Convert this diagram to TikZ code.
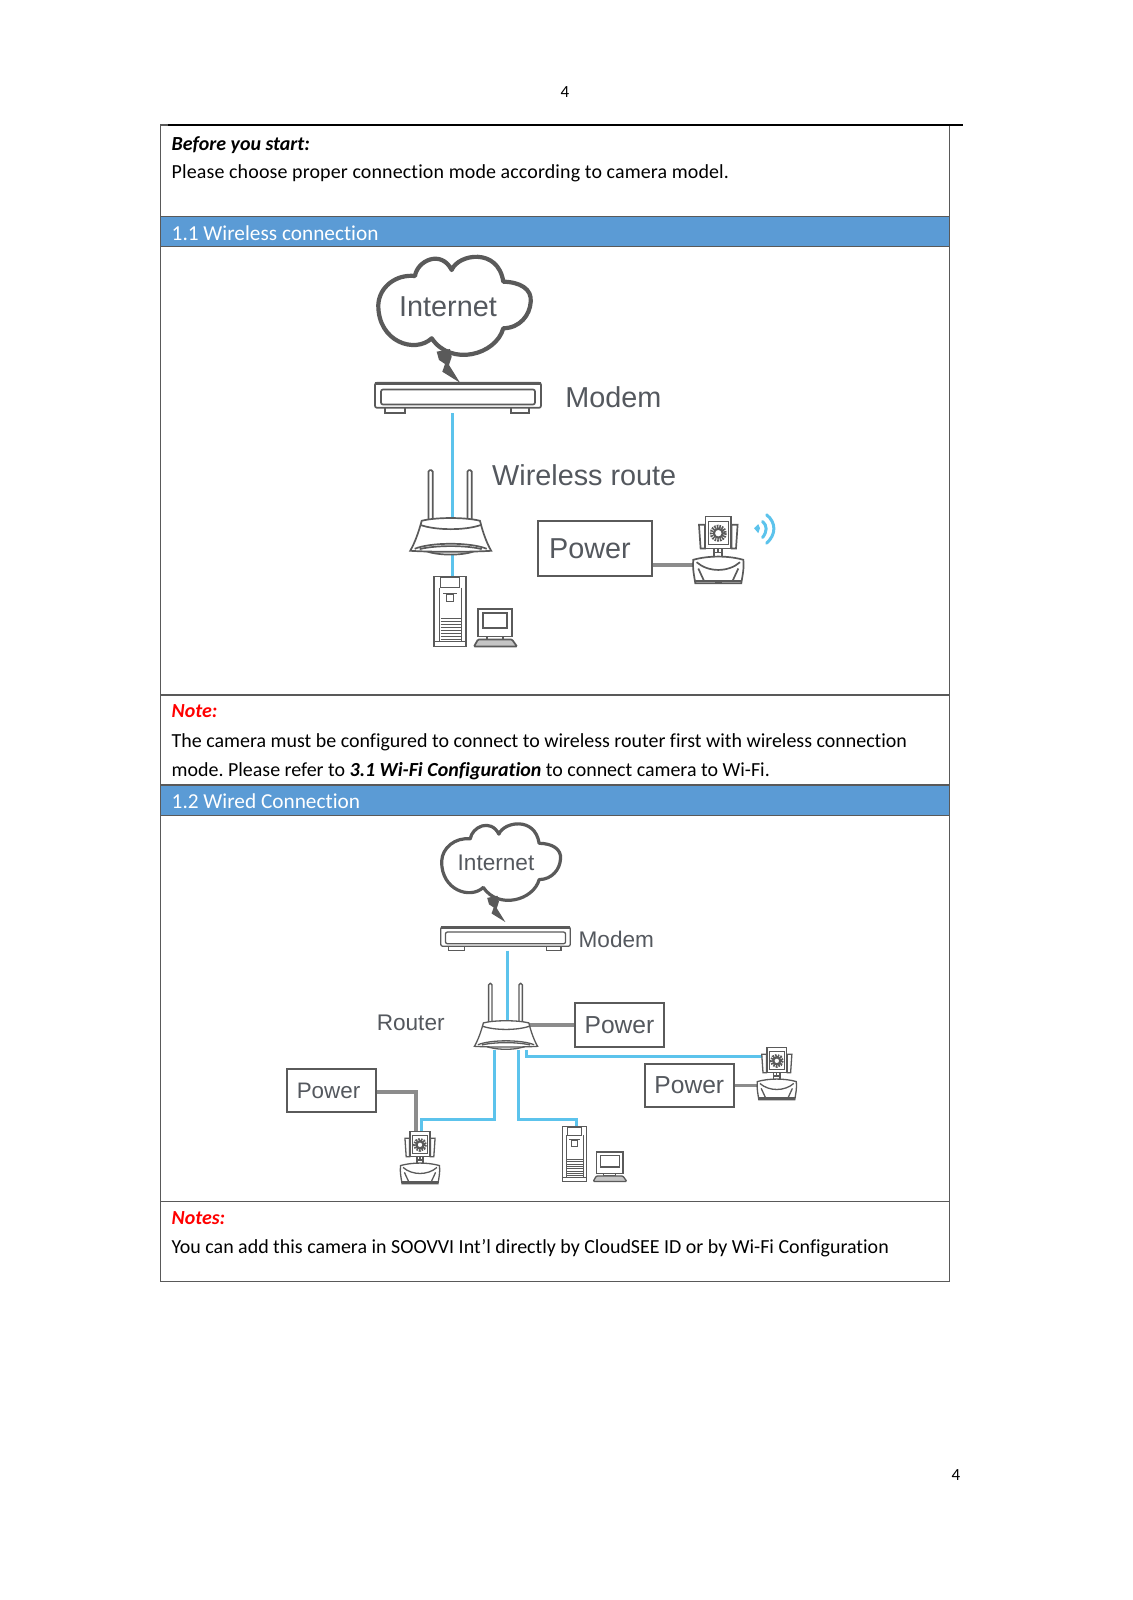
\documentclass[tikz,border=0pt]{standalone}
\usepackage{fontspec}
\usetikzlibrary{positioning}
\setmainfont{Carlito}[Ligatures=CommonOff]
\newfontfamily\arialfont{Liberation Sans}
\definecolor{bannerblue}{HTML}{5B9BD5}
\definecolor{lancolor}{HTML}{5CC3EC}
\definecolor{icocolor}{HTML}{5A5A5A}
\definecolor{lblcolor}{HTML}{54585E}

\tikzset{
    dev/.style 2 args = {inner sep = 0pt, minimum width = #1, minimum height = #2},
    icoline/.style = {draw = icocolor, line width = 1.7pt, fill = white},
    cloudline/.style = {icoline, line width = 4.2pt, line join = round},
    small icon/.style = {scale = 0.78, icoline/.append style = {line width = 1.3pt}, cloudline/.append style = {line width = 3.2pt}},
    lan/.style = {draw = lancolor, line width = 3pt},
    cable/.style = {draw = gray!90, line width = 3.4pt},
    cable small/.style = {cable, line width = 3.2pt},
    power/.style = {draw = icocolor, line width = 1.8pt, inner sep = 0pt, text = lblcolor},
    lbl/.style = {inner sep = 0pt, text = lblcolor, font = \arialfont\fontsize{28.8}{30}\selectfont},
    lblsmall/.style = {lbl, font = \arialfont\fontsize{22.6}{24}\selectfont},
    body/.style = {anchor = base west, inner sep = 0pt, font = \frenchspacing\fontsize{19.95}{24}\selectfont},
    bannertext/.style = {body, text = white, font = \fontsize{21.3}{24}\selectfont},
    tableline/.style = {draw = black!65, line width = 1.4pt},
    pics/cloudicon/.style = {code = {
        \draw[cloudline] (-69.7,-2)
            .. controls (-69,-20) and (-52,-33) .. (-33,-31)
            .. controls (-31,-46) and (-7,-58) .. (3.7,-37)
            .. controls (10,-53) and (50,-60) .. (55.3,-25.3)
            .. controls (72,-25) and (84,-18) .. (82.7,-5.3)
            .. controls (82,8) and (72,21) .. (55.3,21.3)
            .. controls (48,48) and (3,60) .. (-16.3,31.3)
            .. controls (-33,47) and (-70,35) .. (-69.7,-2) -- cycle;
        \fill[icocolor] (-11.3,44.7) -- (2,42) -- (3.7,49.7) -- (1,58) -- (12,75.7)
            -- (-5.7,64.7) -- (-3,57) -- (-9,53) -- cycle;
    }},
    pics/modemicon/.style = {code = {
        \draw[icoline] (-73,24) rectangle (-53,30);
        \draw[icoline] (53,24) rectangle (71,30);
        \draw[icoline, rounded corners = 2pt] (-83,0) rectangle (83,25);
        \draw[icoline, rounded corners = 2pt] (-77,6.7) rectangle (77,21.7);
        \draw[icoline, fill = none, line width = 2.6pt] (-83,0.5) -- (83,0.5);
    }},
    pics/routericon/.style = {code = {
        \draw[icoline, rounded corners = 1.5pt] (-22.3,5) rectangle (-18,-48);
        \draw[icoline, rounded corners = 1.5pt] (16.7,5) rectangle (21,-48);
        \draw[icoline] (-27,32) .. controls (-15,38) and (15,38) .. (26,32) -- cycle;
        \draw[icoline] (-29,2.7) .. controls (-15,-1) and (15,-1) .. (29.3,2.7)
            .. controls (32,14) and (36,25) .. (40.5,32.7)
            .. controls (20,34) and (-20,34) .. (-40.5,32.7)
            .. controls (-36,25) and (-32,14) .. (-29,2.7) -- cycle;
        \draw[icoline, fill = none] (-30.7,6.7) .. controls (-15,12.5) and (15,12.5) .. (30.7,6.7);
        \draw[icoline, fill = none] (-36,30.7) .. controls (-20,24) and (20,24) .. (36,30.7);
        \draw[icoline, fill = none] (-31,31) .. controls (-15,27) and (15,27) .. (31,31);
    }},
    pics/pcicon/.style = {code = {
        \draw[icoline] (-15.7,0) rectangle (15.7,70);
        \draw[icoline, line width = 0.9pt] (-9.5,1) rectangle (9.5,11);
        \draw[icoline, line width = 0.9pt, fill = none] (-10.5,11) -- (-10.5,65) (11,11) -- (11,65);
        \draw[icoline, line width = 0.9pt, fill = none] (-15.7,65) -- (15.7,65);
        \draw[icoline, line width = 1.2pt, fill = none] (-7,16.7) -- (7,16.7);
        \draw[icoline, line width = 0.9pt] (-3.5,18) rectangle (3.5,25);
        \foreach \ypos in {42,45,...,63}
            \draw[icoline, line width = 1pt, fill = none] (-9.5,\ypos) -- (11,\ypos);
        \draw[icoline] (28.3,32.3) rectangle (62.3,60);
        \draw[icoline] (33.3,36.7) rectangle (57.3,51.7);
        \draw[icoline] (37,60) rectangle (53,63);
        \draw[icoline, rounded corners = 1pt, fill = icocolor!35] (28,63) -- (62,63) -- (67,70) -- (24,70) -- cycle;
    }},
    pics/camicon/.style = {code = {
        \draw[icoline] (-19.3,8.3) -- (-17.7,32) -- (-13.3,32) -- (-13.3,8.3) -- cycle;
        \draw[icoline] (19.3,8.3) -- (17.7,32) -- (13.3,32) -- (13.3,8.3) -- cycle;
        \draw[icoline] (-4,30) rectangle (4,42);
        \draw[icoline, fill = none] (-4,36) -- (4,36) (0,30) -- (0,36);
        \draw[icoline] (-12.7,0) rectangle (12.7,32);
        \draw[icoline, line width = 0.9pt] (-10,5) rectangle (10,28);
        \draw[icocolor, line width = 3pt, dash pattern = on 1.6pt off 1pt] (0,16.7) circle (7);
        \draw[icoline, line width = 2.2pt] (0,16.7) circle (4.5);
        \draw[icoline] (-25,43.3) .. controls (-10,39) and (10,39) .. (25,43.3)
            .. controls (26,52) and (24,60) .. (23,66.7) -- (-23,66.7)
            .. controls (-24,60) and (-26,52) .. (-25,43.3) -- cycle;
        \draw[icoline, fill = none] (-21.7,45.7) .. controls (-10,56) and (10,56) .. (21.7,45.7);
        \draw[icoline, fill = none] (-20,52) -- (-14,65) (20,52) -- (14,65);
        \draw[icoline, fill = none] (-23,64.5) -- (23,64.5);
        \fill[icocolor] (-3.3,64) rectangle (3.3,67);
    }},
    pics/waveicon/.style = {code = {
        \fill[lancolor] (35.7,11.7) -- (40,7.7) -- (41.7,11.7) -- (40,16.7) -- cycle;
        \draw[lan, line cap = round] (44.3,5) .. controls (49,9) and (49,15) .. (44.3,21);
        \draw[lan, line cap = round] (48.3,-1.7) .. controls (58,6) and (58,18) .. (48.3,26.7);
    }},
}

\begin{document}
\begin{tikzpicture} [x = 1pt, y = -1pt]
    \useasboundingbox (0,0) rectangle (1132,1600);
    \fill[white] (0,0) rectangle (1132,1600);

    % page frame and table
    \node (pagetop) [body, anchor = base] at (565,98) {\fontsize{17}{20}\selectfont 4};
    \node (pagebottom) [body, anchor = base] at (956,1480) {\fontsize{17}{20}\selectfont 4};
    \fill[bannerblue] (160.7,216.5) rectangle (949.5,246.5);
    \fill[bannerblue] (160.7,785) rectangle (949.5,815.5);
    \draw[tableline] (160.7,125) rectangle (949.5,1281.7);
    \draw[tableline] (160.7,216.5) -- (949.5,216.5);
    \draw[tableline] (160.7,246.5) -- (949.5,246.5);
    \draw[tableline] (160.7,695) -- (949.5,695);
    \draw[tableline] (160.7,785) -- (949.5,785);
    \draw[tableline] (160.7,815.5) -- (949.5,815.5);
    \draw[tableline] (160.7,1201.7) -- (949.5,1201.7);
    \draw[black, line width = 2pt] (168,125) -- (963,125);

    % table text
    \node (before) [body] at (171.5,150) {\textbf{\textit{Before you start:}}};
    \node (please) [body] at (171.5,178) {\addfontfeature{LetterSpace=0.7}Please choose proper connection mode according to camera model.};
    \node (titleA) [bannertext] at (171.5,240.5) {1.1 Wireless connection};
    \node (noteA) [body, text = red] at (171.5,717) {\textbf{\textit{Note:}}};
    \node (noteAa) [body] at (171.5,747) {The camera must be configured to connect to wireless router first with wireless connection};
    \node (noteAb) [body] at (171.5,776) {mode. Please refer to \textbf{\textit{3.1 Wi-Fi Configuration}} to connect camera to Wi-Fi.};
    \node (titleB) [bannertext] at (171.5,808.5) {1.2 Wired Connection};
    \node (noteB) [body, text = red] at (171.5,1224) {\textbf{\textit{Notes:}}};
    \node (noteBa) [body] at (171.5,1253) {You can add this camera in SOOVVI Int’l directly by CloudSEE ID or by Wi-Fi Configuration};

    % wireless connection
    \node (modemA) [dev = {166pt}{30pt}] at (458,398) {};
    \node (routerA) [dev = {84pt}{37pt}] at (450.7,536.8) {};
    \node (pcA) [dev = {31.4pt}{70pt}] at (450,611.7) {};
    \node (camA) [dev = {50pt}{67pt}] at (718.3,550.2) {};
    \node (pwrA) [power, minimum width = 114pt, minimum height = 55pt, font = \arialfont\fontsize{28.8}{30}\selectfont] at (595,548.5) {Power\hspace*{10pt}};

    \path[lan] ([xshift = -6pt]modemA.south) edge ([xshift = 2pt]pcA.north);
    \draw[cable] ([yshift = -16.5pt]pwrA.east) -- ([yshift = -16.5pt]pwrA.east -| camA.center);

    \pic at (448,307) {cloudicon};
    \node (cloudA) [lbl] at (448,307) {Internet};
    \pic at (modemA.north) {modemicon};
    \pic at (routerA.north) {routericon};
    \pic at (pcA.north) {pcicon};
    \pic at (camA.north) {camicon};
    \pic at (camA.north) {waveicon};
    \node (modemlblA) [lbl, right = 24pt of modemA, yshift = 1pt] {Modem};
    \node (wifilbl) [lbl, anchor = base west] at (492,485) {Wireless route};

    % wired connection
    \node (modemB) [dev = {129.5pt}{23.5pt}] at (505.5,938.75) {};
    \node (routerB) [dev = {66pt}{29pt}] at (506,1035.5) {};
    \node (pcB) [dev = {24.5pt}{54.6pt}] at (574.5,1154.3) {};
    \node (camB) [dev = {39pt}{52pt}] at (420,1158) {};
    \node (camC) [dev = {39pt}{52pt}] at (776.8,1074) {};
    \node (pwrB) [power, minimum width = 89pt, minimum height = 44pt, font = \arialfont\fontsize{24.6}{26}\selectfont] at (619.5,1025) {Power};
    \node (pwrC) [power, minimum width = 88.6pt, minimum height = 43pt, font = \arialfont\fontsize{24.6}{26}\selectfont] at (689.3,1085.5) {Power};
    \node (pwrD) [power, minimum width = 89pt, minimum height = 43pt, font = \arialfont\fontsize{22.4}{24}\selectfont] at (331.5,1090.5) {Power\hspace*{6pt}};

    \path[lan] ([xshift = 1.5pt]modemB.south) edge ([xshift = 1pt]routerB.north);
    \draw[lan] ([xshift = -12pt]routerB.south) -- ++(0,69) -| ([xshift = 1pt]camB.north);
    \draw[lan] ([xshift = 12.6pt]routerB.south) -- ++(0,69) -| ([xshift = 1.5pt]pcB.north);
    \draw[lan] ([xshift = 20pt]routerB.south) |- ([xshift = -12pt, yshift = -9pt]camC.north);
    \draw[cable small] (pwrB.west) -- (pwrB.west -| routerB.center);
    \draw[cable small] (pwrC.east) -- (pwrC.east -| camC.center);
    \draw[cable small] ([yshift = -1.5pt]pwrD.east) -| ([xshift = -4pt]camB.north);

    \pic [small icon] at (496,863) {cloudicon};
    \node (cloudB) [lblsmall] at (496,863) {Internet};
    \pic [small icon] at (modemB.north) {modemicon};
    \pic [small icon] at (routerB.north) {routericon};
    \pic [small icon] at (pcB.north) {pcicon};
    \pic [small icon] at (camB.north) {camicon};
    \pic [small icon] at (camC.north) {camicon};
    \node (modemlblB) [lblsmall, right = 8pt of modemB, yshift = -1pt] {Modem};
    \node (routerlbl) [lblsmall, left = 28pt of routerB, yshift = 13pt] {Router};
\end{tikzpicture}
\end{document}
